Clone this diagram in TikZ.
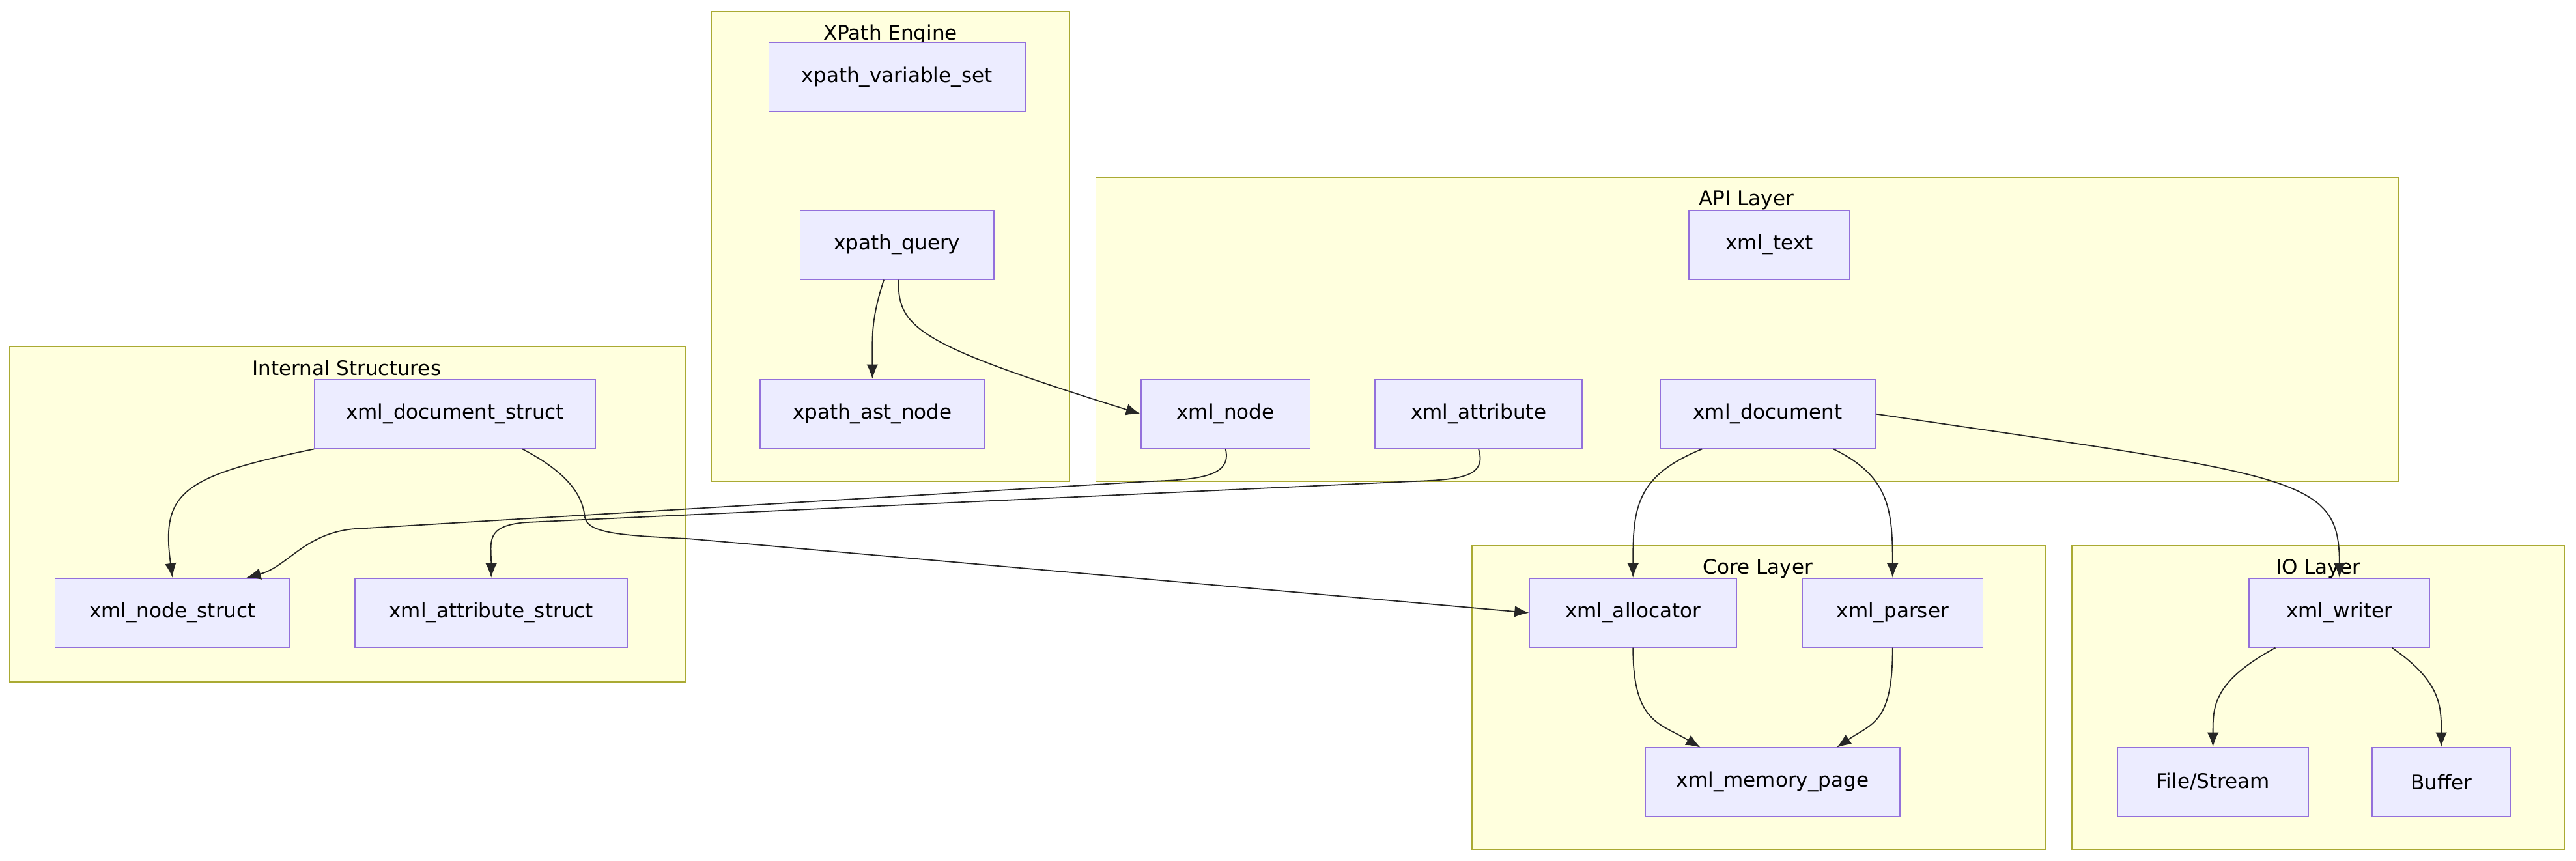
\documentclass[tikz,border=0pt]{standalone}
\usepackage{fontspec}
\setmainfont{DejaVu Sans}
\usetikzlibrary{arrows.meta}
\definecolor{boxline}{RGB}{147,112,219}
\definecolor{boxfill}{RGB}{236,236,255}
\definecolor{grpline}{RGB}{170,170,51}
\definecolor{grpfill}{RGB}{255,255,222}
\tikzset{
    box/.style={draw=boxline, fill=boxfill, minimum height=0.84cm, font=\fontsize{7}{8}\selectfont, inner sep=0pt},
    group/.style={draw=grpline, fill=grpfill},
    glabel/.style={font=\fontsize{7}{8}\selectfont, anchor=north},
    link/.style={-{Latex[length=5pt,width=4pt]}, thin, black!85}
}
\begin{document}
\begin{tikzpicture}[x=0.02cm, y=-0.02cm]
    \useasboundingbox (0,0) rectangle (1568,524);

    % groups
    \draw[group] (433,7) rectangle (651,293);
    \node[glabel] (gx) at (542,9) {XPath Engine};
    \draw[group] (667,108) rectangle (1460,293);
    \node[glabel] (ga) at (1063,110) {API Layer};
    \draw[group] (6,211) rectangle (417,415);
    \node[glabel] (gi) at (211,213) {Internal Structures};
    \draw[group] (896,332) rectangle (1245,517);
    \node[glabel] (gc) at (1070,334) {Core Layer};
    \draw[group] (1261,332) rectangle (1561,517);
    \node[glabel] (gio) at (1411,334) {IO Layer};

    % nodes
    \node[box, minimum width=3.12cm] (vset) at (546,47) {xpath\_variable\_set};
    \node[box, minimum width=2.36cm] (query) at (546,149) {xpath\_query};
    \node[box, minimum width=2.74cm] (ast) at (531,252) {xpath\_ast\_node};
    \node[box, minimum width=1.96cm] (text) at (1077,149) {xml\_text};
    \node[box, minimum width=2.06cm] (xnode) at (746,252) {xml\_node};
    \node[box, minimum width=2.52cm] (xattr) at (900,252) {xml\_attribute};
    \node[box, minimum width=2.62cm] (xdoc) at (1076,252) {xml\_document};
    \node[box, minimum width=3.42cm] (dstruct) at (277,252) {xml\_document\_struct};
    \node[box, minimum width=2.86cm] (nstruct) at (105,373) {xml\_node\_struct};
    \node[box, minimum width=3.32cm] (astruct) at (299,373) {xml\_attribute\_struct};
    \node[box, minimum width=2.52cm] (alloc) at (994,373) {xml\_allocator};
    \node[box, minimum width=2.2cm] (parser) at (1152,373) {xml\_parser};
    \node[box, minimum width=3.1cm] (mpage) at (1079,476) {xml\_memory\_page};
    \node[box, minimum width=2.2cm] (writer) at (1424,373) {xml\_writer};
    \node[box, minimum width=2.32cm] (file) at (1347,476) {File/Stream};
    \node[box, minimum width=1.68cm] (buffer) at (1486,476) {Buffer};

    % edges
    \draw[link] ([xshift=-0.16cm]query.south) .. controls (530,195) and (531,205) .. (ast.north);
    \draw[link] ([xshift=0.02cm]query.south) .. controls (546,200) and (560,210) .. (xnode.west);
    \draw[link] (xnode.south) .. controls (750,290) and (730,292) .. (700,293)
        -- (215,322) .. controls (185,325) and (175,345) .. ([xshift=0.9cm]nstruct.north);
    \draw[link] (xattr.south) .. controls (905,290) and (890,292) .. (860,293)
        -- (320,318) .. controls (295,320) and (299,330) .. (astruct.north);
    \draw[link] (dstruct.south west) .. controls (110,290) and (98,300) .. (nstruct.north);
    \draw[link] ([xshift=0.82cm]dstruct.south) .. controls (350,290) and (355,305) .. (356,315)
        .. controls (358,325) and (380,326) .. (420,328) -- (alloc.west);
    \draw[link] ([xshift=-0.8cm]xdoc.south) .. controls (995,290) and (994,310) .. (alloc.north);
    \draw[link] ([xshift=0.8cm]xdoc.south) .. controls (1150,290) and (1152,310) .. (parser.north);
    \draw[link] (xdoc.east) .. controls (1400,290) and (1424,290) .. (writer.north);
    \draw[link] (alloc.south) .. controls (994,440) and (1010,440) .. (1035,455);
    \draw[link] (parser.south) .. controls (1152,440) and (1140,440) .. (1118,455);
    \draw[link] ([xshift=-0.78cm]writer.south) .. controls (1347,415) and (1347,430) .. (file.north);
    \draw[link] ([xshift=0.64cm]writer.south) .. controls (1486,415) and (1486,430) .. (buffer.north);
\end{tikzpicture}
\end{document}
